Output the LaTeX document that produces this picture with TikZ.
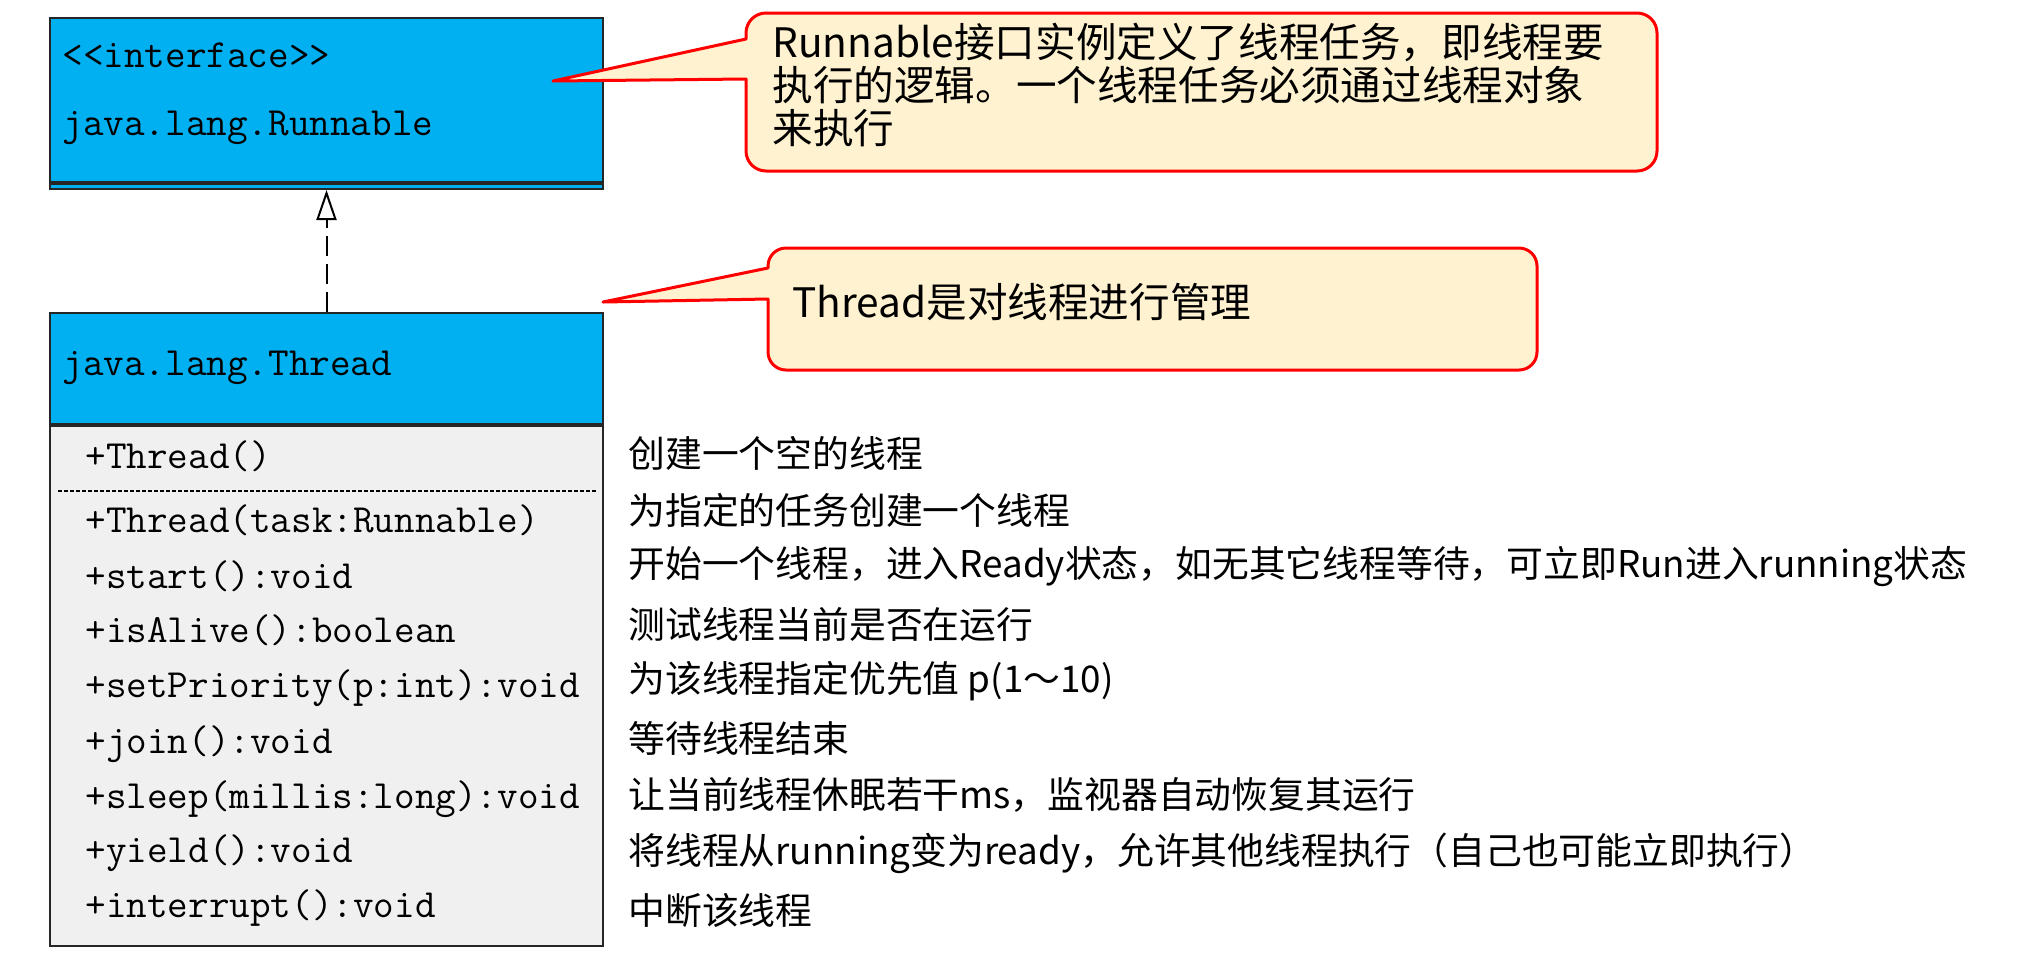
\documentclass[tikz,border=0pt]{standalone}
\usepackage{fontspec}
\newfontfamily\cjk{Noto Sans CJK SC}
\usetikzlibrary{arrows.meta,positioning}
\definecolor{headblue}{HTML}{00B0F0}
\definecolor{bodygray}{HTML}{F0F0F0}
\definecolor{notefill}{HTML}{FFF2D0}
\definecolor{notered}{HTML}{FF0000}

\begin{document}
\begin{tikzpicture}[
  x=0.5pt,y=-0.5pt,
  node distance=0pt,
  clsbox/.style={draw=black!85,line width=1pt,minimum width=276.5pt,inner sep=0pt},
  umltext/.style={anchor=west,inner sep=0pt,text height=0.75em,text depth=0.25em,font=\ttfamily\fontsize{20}{24}\selectfont},
  desc/.style={anchor=west,inner sep=0pt,font=\cjk\fontsize{18.4}{22}\selectfont},
  note/.style={draw=notered,fill=notefill,line width=1.5pt,line join=round},
  notetext/.style={anchor=west,align=left,inner sep=0pt,font=\cjk\fontsize{20.3}{21.5}\selectfont},
  realize/.style={dashed,dash pattern=on 10pt off 4pt,line width=1pt,-{Triangle[open,length=15pt,width=10pt]}}
]
\useasboundingbox (0,0) rectangle (2018,976);

% interface box (two empty compartments below the name)
\node[clsbox,fill=headblue,minimum height=82pt,anchor=north west] (runnable) at (49,17) {};
\node[clsbox,fill=headblue,minimum height=2.5pt,below=of runnable] (runnableops) {};
\node[umltext] (ifacelbl) at (62,62) {<{}<interface>{}>};
\node[umltext] (runnablelbl) at (62,130) {java.lang.Runnable};

% Thread class
\node[clsbox,fill=headblue,minimum height=55.5pt,anchor=north west] (threadhead) at (49,312) {};
\node[clsbox,fill=bodygray,minimum height=260pt,below=of threadhead] (threadbody) {};
\node[umltext] (threadlbl) at (62,370) {java.lang.Thread};

\draw[realize] (threadhead.north) -- (runnableops.south);

% methods
\node[umltext] (mnew) at (85,463) {+Thread()};
\coordinate (sepl) at (58,491);
\coordinate (sepr) at (596,491);
\draw[line width=0.6pt,dash pattern=on 2pt off 1pt] (sepl) -- (sepr);
\node[umltext] (mtask) at (85,527) {+Thread(task:Runnable)};
\node[umltext] (mstart) at (85,583) {+start():void};
\node[umltext] (malive) at (85,637) {+isAlive():boolean};
\node[umltext] (mprio) at (85,692) {+setPriority(p:int):void};
\node[umltext] (mjoin) at (85,748) {+join():void};
\node[umltext] (msleep) at (85,803) {+sleep(millis:long):void};
\node[umltext] (myield) at (85,857) {+yield():void};
\node[umltext] (mintr) at (85,912) {+interrupt():void};

% descriptions
\node[desc] (dnew) at (628,453) {创建一个空的线程};
\node[desc] (dtask) at (628,510) {为指定的任务创建一个线程};
\node[desc] (dstart) at (628,567) {开始一个线程，进入Ready状态，如无其它线程等待，可立即Run进入running状态};
\node[desc] (dalive) at (628,624) {测试线程当前是否在运行};
\node[desc] (dprio) at (628,681) {为该线程指定优先值 p(1～10)};
\node[desc] (djoin) at (628,738) {等待线程结束};
\node[desc] (dsleep) at (628,795) {让当前线程休眠若干ms，监视器自动恢复其运行};
\node[desc] (dyield) at (628,853) {将线程从running变为ready，允许其他线程执行（自己也可能立即执行）};
\node[desc] (dintr) at (628,910) {中断该线程};

% callouts
\coordinate (tip1) at (553,81);
\draw[note] (746,39) [rounded corners=10pt] -- (746,13) -- (1657,13) -- (1657,171) -- (746,171) [sharp corners] -- (746,79) -- (tip1) -- cycle;
\node[notetext] (note1) at (772,85) {Runnable接口实例定义了线程任务，即线程要\\执行的逻辑。一个线程任务必须通过线程对象\\来执行};

\coordinate (tip2) at (603,302);
\draw[note] (768,268) [rounded corners=9pt] -- (768,248) -- (1537,248) -- (1537,370) -- (768,370) [sharp corners] -- (768,299) -- (tip2) -- cycle;
\node[notetext] (note2) at (792,302) {Thread是对线程进行管理};
\end{tikzpicture}
\end{document}
